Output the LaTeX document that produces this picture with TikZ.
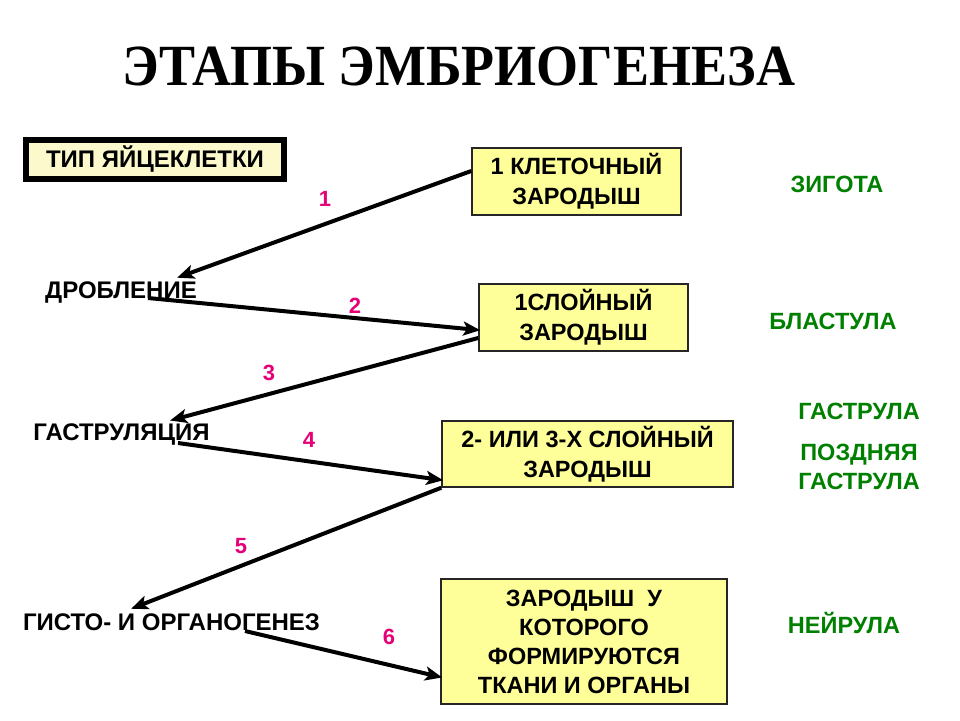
\documentclass[tikz,border=0pt]{standalone}
\usepackage{fontspec}
\setmainfont{Liberation Sans}
\newfontfamily\titlefont{Liberation Serif}
\usetikzlibrary{arrows.meta}
\definecolor{boxfill}{HTML}{FFFF99}
\definecolor{typfill}{HTML}{FCFACC}
\definecolor{stagegreen}{RGB}{0,128,0}
\definecolor{numpink}{RGB}{230,0,120}
\tikzset{
  stagebox/.style={draw=black!85, line width=1.5pt, fill=boxfill, align=center, inner sep=0pt,
    font=\bfseries\fontsize{23.5}{30}\selectfont},
  typbox/.style={draw=black, line width=6pt, fill=typfill, inner sep=0pt,
    font=\bfseries\fontsize{24}{26}\selectfont},
  proclabel/.style={anchor=base, inner sep=0pt, font=\bfseries\fontsize{24}{26}\selectfont},
  greenlabel/.style={inner sep=0pt, text=stagegreen, align=center, font=\bfseries\fontsize{23.5}{29}\selectfont},
  numlabel/.style={inner sep=0pt, text=numpink, font=\bfseries\fontsize{22}{24}\selectfont},
  flow/.style={line width=4pt, -{Stealth[length=17pt,width=14pt,inset=4pt]}, shorten >=-2pt}
}
\begin{document}
\begin{tikzpicture}[x=1pt,y=-1pt]
\useasboundingbox[fill=white] (0,0) rectangle (960,720);

\node[anchor=base, inner sep=0pt, font=\titlefont\bfseries\fontsize{54}{60}\selectfont] (title) at (459,85) {\scalebox{1}[1.08]{ЭТАПЫ ЭМБРИОГЕНЕЗА}};

\node[typbox, minimum width=258pt, minimum height=39pt] (typ) at (155,159.5) {ТИП ЯЙЦЕКЛЕТКИ};

\node[stagebox, minimum width=209pt, minimum height=67pt] (b1) at (576.5,181.5) {1 КЛЕТОЧНЫЙ\\ЗАРОДЫШ};
\node[stagebox, minimum width=209pt, minimum height=67pt] (b2) at (583.5,317.5) {1СЛОЙНЫЙ\\ЗАРОДЫШ};
\node[stagebox, minimum width=291pt, minimum height=66pt] (b3) at (587.5,454) {2- ИЛИ 3-Х СЛОЙНЫЙ\\ЗАРОДЫШ};
\node[stagebox, minimum width=286pt, minimum height=125pt, font=\bfseries\fontsize{23.5}{29}\selectfont] (b4) at (584,641.5) {ЗАРОДЫШ\ \ У\\КОТОРОГО\\ФОРМИРУЮТСЯ\\ТКАНИ И ОРГАНЫ};

\node[proclabel] (drob) at (121,298) {ДРОБЛЕНИЕ};
\node[proclabel] (gastr) at (121.5,440) {ГАСТРУЛЯЦИЯ};
\node[proclabel] (gisto) at (171.5,630) {ГИСТО- И ОРГАНОГЕНЕЗ};

\node[greenlabel] (zig) at (837,184) {ЗИГОТА};
\node[greenlabel] (blast) at (833,321) {БЛАСТУЛА};
\node[greenlabel] (gas) at (859,411) {ГАСТРУЛА};
\node[greenlabel] (pgas) at (859,466.5) {ПОЗДНЯЯ\\ГАСТРУЛА};
\node[greenlabel] (neir) at (844,623) {НЕЙРУЛА};

\node[numlabel] (n1) at (325,199) {1};
\node[numlabel] (n2) at (355,306) {2};
\node[numlabel] (n3) at (269,373) {3};
\node[numlabel] (n4) at (309,440) {4};
\node[numlabel] (n5) at (241,546) {5};
\node[numlabel] (n6) at (389,637) {6};

\coordinate (c1) at (179,277);
\coordinate (c2) at (148,298);
\coordinate (c3) at (172,420);
\coordinate (c4) at (178,443);
\coordinate (c5) at (133,608);
\coordinate (c6) at (245,631);

\draw[flow] ([yshift=10.5pt]b1.west) -- (c1);
\draw[flow] (c2) -- ([yshift=-12.5pt]b2.west);
\draw[flow] ([yshift=-20.5pt]b2.west) -- (c3);
\draw[flow] (c4) -- ([yshift=-26pt]b3.west);
\draw[flow] (b3.south west) -- (c5);
\draw[flow] (c6) -- ([yshift=-35.5pt]b4.west);
\end{tikzpicture}
\end{document}
